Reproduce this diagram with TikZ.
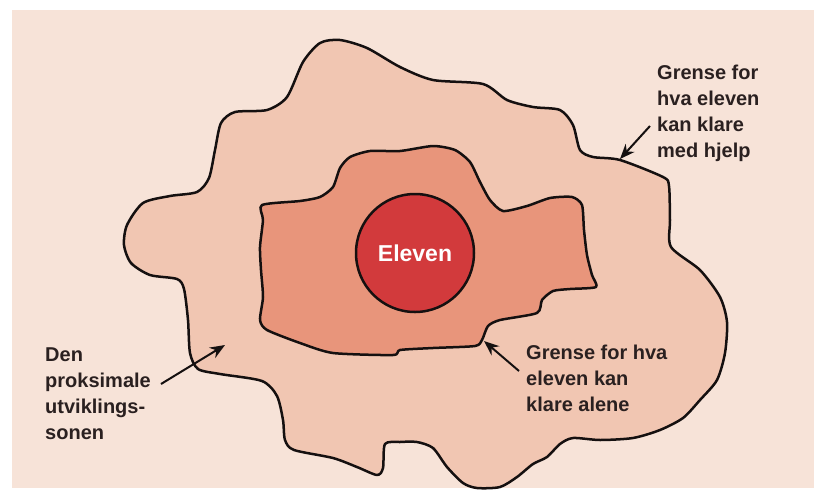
\documentclass[tikz,border=0pt]{standalone}
\usepackage{fontspec}
\setmainfont{Liberation Sans}
\newfontfamily\boldlabel{Liberation Sans Bold}
\usetikzlibrary{arrows.meta}
\definecolor{paper}{HTML}{F7E3D8}
\definecolor{zonefill}{HTML}{F1C6B2}
\definecolor{alonefill}{HTML}{E8957B}
\definecolor{pupilfill}{HTML}{D23A3C}
\definecolor{inkline}{HTML}{151010}
\definecolor{labelink}{HTML}{2A2020}
\tikzset{
  border/.style={draw=inkline, line width=2.5pt, line join=round},
  pointer/.style={draw=inkline, line width=2pt, -{Stealth[length=15pt,width=12pt]}},
  label/.style={align=left, inner sep=0pt, anchor=north west, text=labelink,
                font=\boldlabel\fontsize{20}{26}\selectfont}
}
\begin{document}
\begin{tikzpicture}[x=1pt,y=-1pt]
\useasboundingbox (0,0) rectangle (820,499);
\fill[white] (0,0) rectangle (820,499);
\fill[paper] (12,10) rectangle (814,488);
% outer zone
\path[border, fill=zonefill] plot[smooth cycle, tension=0.45] coordinates {
 (143,203) (170,196) (197,192) (209,178) (215,150) (221,123) (235,112) (267,110)
 (287,97) (303,62) (320,43) (340,40) (367,48) (400,67) (433,80) (483,84)
 (507,100) (533,107) (560,110) (573,125) (580,150) (593,157) (620,160) (663,177)
 (669,186) (670,220) (671,247) (700,270) (720,297) (727,322) (725,353) (717,380)
 (700,400) (683,418) (660,430) (633,438) (600,440) (573,438) (560,444) (547,457)
 (533,464) (517,477) (500,487) (477,488) (463,483) (447,467) (433,448) (417,442)
 (400,442) (385,444) (383,468) (377,475) (357,467) (333,458) (294,450) (285,440)
 (283,420) (277,396) (262,381) (220,374) (198,369) (190,353) (188,320) (184,289)
 (177,279) (150,275) (131,263) (124,245) (127,225)};
% inner zone
\path[border, fill=alonefill] plot[smooth cycle, tension=0.4] coordinates {
 (262,205) (300,201) (320,197) (333,187) (340,168) (350,157) (370,151) (400,151)
 (433,146) (455,150) (470,162) (480,182) (490,200) (503,211) (527,206) (550,198)
 (572,197) (582,205) (584,230) (587,255) (592,275) (596,287) (570,289) (553,291)
 (542,300) (537,313) (500,320) (488,326) (482,340) (475,346) (433,348) (400,350)
 (393,355) (333,353) (300,343) (267,330) (260,320) (263,297) (261,270) (260,247)
 (263,220)};
% pupil
\node[circle, draw=inkline, line width=2.5pt, fill=pupilfill, minimum size=118pt,
      inner sep=0pt, text=white, font=\boldlabel\fontsize{23}{26}\selectfont]
  (pupil) at (415,253) {Eleven};
% labels
\node[label] (helpLbl) at (657,65) {Grense for\\hva eleven\\kan klare\\med hjelp};
\node[label] (zoneLbl) at (45,348) {Den\\proksimale\\utviklings-\\sonen};
\node[label] (aloneLbl) at (526,345) {Grense for hva\\eleven kan\\klare alene};
% arrows
\coordinate (helpTail) at (650,126);
\coordinate (helpHead) at (620,159);
\coordinate (zoneTail) at (161,384);
\coordinate (zoneHead) at (225,345);
\coordinate (aloneTail) at (519,371);
\coordinate (aloneHead) at (484,341);
\draw[pointer] (helpTail) -- (helpHead);
\draw[pointer] (zoneTail) -- (zoneHead);
\draw[pointer] (aloneTail) -- (aloneHead);
\end{tikzpicture}
\end{document}
